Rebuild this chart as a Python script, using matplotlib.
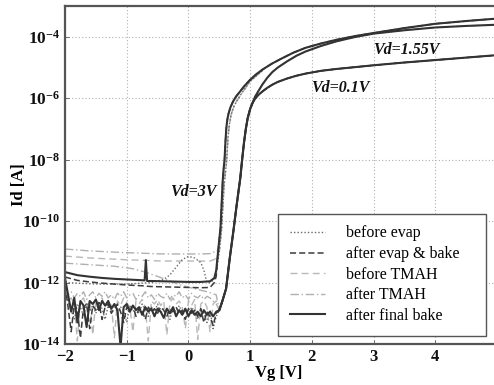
import numpy as np
import matplotlib
matplotlib.use("Agg")
import matplotlib.pyplot as plt
from matplotlib.lines import Line2D

plt.rcParams['font.family'] = ['Liberation Serif', 'DejaVu Serif']
plt.rcParams['mathtext.fontset'] = 'custom'
plt.rcParams['mathtext.rm'] = 'Liberation Serif'
plt.rcParams['mathtext.bf'] = 'Liberation Serif:bold'

# ---------------- data (log10 of Id) ----------------
# off-state grid for the noisy low-Vd curves
vg_off = [-2.0, -1.95, -1.9, -1.85, -1.8, -1.75, -1.7, -1.65, -1.6, -1.55,
          -1.5, -1.45, -1.4, -1.35, -1.3, -1.25, -1.2, -1.15, -1.1, -1.05,
          -1.0, -0.95, -0.9, -0.85, -0.8, -0.75, -0.7, -0.65, -0.6, -0.55,
          -0.5, -0.45, -0.4, -0.35, -0.3, -0.25, -0.2, -0.15, -0.1, -0.05,
          0.0, 0.05, 0.1, 0.15, 0.2, 0.25, 0.3, 0.35, 0.4, 0.45]

noise_final = [-11.85, -12.4, -12.95, -12.5, -13.3, -12.6, -12.75, -13.45, -12.6, -12.7,
               -12.55, -12.9, -12.6, -12.75, -12.6, -12.85, -12.7, -12.9, -14.1, -12.8,
               -12.7, -12.95, -12.75, -12.9, -12.8, -13.05, -12.8, -12.95, -12.85, -13.1,
               -12.85, -12.95, -13.15, -12.85, -13.0, -12.8, -13.1, -12.9, -13.05, -12.85,
               -13.1, -12.9, -13.05, -12.95, -13.1, -12.9, -13.05, -12.95, -13.1, -12.95]
noise_evap = [-12.1, -12.8, -13.6, -12.7, -12.9, -13.8, -12.8, -12.7, -13.5, -12.75,
              -12.9, -12.65, -13.2, -12.8, -12.7, -13.0, -12.85, -12.7, -12.95, -13.3,
              -12.8, -12.9, -12.75, -13.1, -12.85, -12.9, -13.2, -12.8, -12.95, -12.85,
              -13.0, -12.8, -12.9, -13.1, -12.85, -12.95, -12.8, -13.0, -12.9, -13.2,
              -12.85, -13.0, -12.9, -13.1, -12.85, -13.3, -12.95, -13.1, -13.4, -13.0]
noise_tmah_before = [-12.3, -12.6, -12.5, -12.7, -13.9, -12.6, -12.5, -12.8, -12.6, -13.7,
                     -12.55, -12.7, -12.5, -12.8, -12.6, -12.7, -13.8, -12.6, -12.75, -12.5,
                     -12.65, -12.8, -13.6, -12.6, -12.7, -12.55, -12.8, -13.9, -12.6, -12.7,
                     -12.55, -12.75, -12.6, -13.7, -12.65, -12.5, -12.7, -12.6, -12.8, -13.5,
                     -12.6, -12.75, -12.55, -13.85, -12.7, -12.6, -12.8, -13.6, -12.7, -12.6]
noise_tmah_after = [-12.2, -12.4, -12.3, -12.5, -12.35, -12.45, -12.3, -12.55, -12.4, -12.3,
                    -12.5, -12.35, -12.45, -12.3, -12.5, -12.4, -12.55, -12.35, -12.45, -12.3,
                    -12.5, -12.4, -12.35, -12.55, -12.4, -12.45, -12.3, -12.5, -12.4, -12.55,
                    -12.35, -12.45, -12.5, -12.35, -12.55, -12.4, -12.45, -12.3, -12.5, -12.4,
                    -12.55, -12.35, -12.45, -12.5, -12.4, -12.55, -12.45, -12.5, -12.6, -12.7]
noise_before_evap = [-12.0, -12.6, -12.9, -13.2, -12.7, -12.8, -13.1, -12.65, -12.9, -12.75,
                     -13.0, -12.7, -12.85, -13.2, -12.75, -12.9, -12.7, -13.0, -12.8, -12.9,
                     -13.3, -12.75, -12.95, -12.8, -13.0, -12.7, -12.9, -13.1, -12.8, -12.95,
                     -12.7, -13.0, -12.85, -12.9, -13.2, -12.8, -12.95, -12.75, -13.0, -12.85,
                     -13.1, -12.8, -12.95, -13.2, -12.85, -13.0, -13.3, -12.9, -13.5, -13.1]

# turn-on of the Vd=0.1V / 1.55V curves (they overlap up to ~1 V)
vg_rise_low = [0.5, 0.55, 0.61, 0.67, 0.73, 0.78, 0.84, 0.87, 0.9, 0.93, 0.96, 1.0, 1.04]
rise_low = [-12.9, -12.6, -12.2, -11.2, -10.3, -9.5, -8.6, -8.0, -7.45, -7.0, -6.65, -6.35, -6.15]

vg_hi = [1.08, 1.13, 1.2, 1.28, 1.36, 1.45, 1.6, 1.75, 1.9, 2.15, 2.4, 2.7, 3.0,
         3.5, 4.0, 4.5, 5.0]
hi_01 = [-6.02, -5.9, -5.78, -5.66, -5.56, -5.47, -5.36, -5.27, -5.2, -5.11, -5.05, -4.99,
         -4.93, -4.84, -4.76, -4.68, -4.6]
hi_155 = [-5.95, -5.78, -5.55, -5.33, -5.15, -5.0, -4.8, -4.62, -4.48, -4.3, -4.15, -4.01,
          -3.9, -3.79, -3.7, -3.65, -3.61]

# Vd=3V off-state
vg_3v_off = [-2.0, -1.8, -1.6, -1.4, -1.2, -1.0, -0.8, -0.71, -0.69, -0.67,
             -0.6, -0.4, -0.2, 0.0, 0.2, 0.35, 0.42, 0.45]
off_3v_final = [-11.66, -11.76, -11.81, -11.85, -11.88, -11.9, -11.92, -11.93, -11.27, -11.95,
                -11.95, -11.96, -11.97, -11.98, -11.98, -11.96, -11.85, -11.6]
off_3v_evap = [-11.82, -11.93, -11.98, -12.02, -12.05, -12.08, -12.1, -12.11, -12.11, -12.12,
               -12.13, -12.14, -12.15, -12.16, -12.17, -12.16, -12.0, -11.8]
off_3v_tmah_after = [-10.91, -10.94, -10.97, -10.99, -11.01, -11.03, -11.04, -11.05, -11.05, -11.05,
                     -11.06, -11.07, -11.07, -11.07, -11.07, -11.06, -11.0, -10.95]
off_3v_tmah_before = [-11.14, -11.17, -11.2, -11.22, -11.24, -11.26, -11.27, -11.28, -11.28, -11.28,
                      -11.29, -11.3, -11.3, -11.3, -11.3, -11.3, -11.25, -11.2]

vg_tmah_155 = [-2.0, -1.6, -1.2, -0.9, -0.7, -0.5, -0.3, -0.1, 0.1, 0.3, 0.45]
off_tmah_155 = [-11.37, -11.42, -11.47, -11.55, -11.66, -11.8, -11.95, -12.1, -12.2, -12.3, -12.4]

vg_bump = [-2.0, -1.5, -1.0, -0.6, -0.4, -0.3, -0.2, -0.1, 0.0, 0.1, 0.2, 0.25, 0.3, 0.35, 0.42, 0.45]
off_bump = [-12.0, -12.05, -12.05, -12.0, -11.9, -11.75, -11.5, -11.25, -11.15, -11.2, -11.35,
            -11.6, -12.0, -12.0, -11.9, -11.7]

# Vd=3V turn-on
vg_3v_rise = [0.48, 0.52, 0.555, 0.57, 0.585, 0.6, 0.615, 0.63, 0.65, 0.68, 0.72, 0.77,
              0.83, 0.9, 1.0, 1.1, 1.2, 1.35, 1.5, 1.7, 1.9, 2.15, 2.4, 2.7, 3.0,
              3.5, 4.0, 4.5, 5.0]
rise_3v = [-11.0, -10.2, -8.7, -8.3, -8.0, -7.4, -6.95, -6.7, -6.5, -6.3, -6.12, -5.95,
           -5.8, -5.62, -5.4, -5.22, -5.07, -4.88, -4.72, -4.52, -4.36, -4.22, -4.1, -3.98,
           -3.88, -3.72, -3.58, -3.49, -3.41]
vg_3v_rise_b = [0.5, 0.54, 0.575, 0.6, 0.62, 0.64, 0.66, 0.69, 0.73, 0.78, 0.85, 0.92, 1.0, 1.2]
rise_3v_b = [-11.0, -10.2, -8.9, -8.4, -8.0, -7.3, -6.9, -6.55, -6.3, -6.1, -5.88, -5.68,
             -5.45, -5.1]

labels = ['before evap', 'after evap & bake', 'before TMAH', 'after TMAH', 'after final bake']
styles = {
    'before evap': dict(color='#6a6a6a', ls=(0, (1, 1.5)), lw=1.0),
    'after evap & bake': dict(color='#3c3c3c', ls=(0, (4, 2)), lw=1.1),
    'before TMAH': dict(color='#b8b8b8', ls=(0, (5, 3)), lw=1.0),
    'after TMAH': dict(color='#b0b0b0', ls=(0, (6, 2, 1, 2)), lw=1.0),
    'after final bake': dict(color='#333333', ls='-', lw=1.5),
}


def line(ax, xs, ys, key):
    st = styles[key]
    ax.plot(xs, 10.0 ** np.array(ys), color=st['color'], linestyle=st['ls'], linewidth=st['lw'])


fig = plt.figure(figsize=(4.94, 3.85), dpi=100)
ax = fig.add_axes([0.1316, 0.1065, 0.8745, 0.878])

# light curves first
line(ax, vg_off + vg_rise_low + vg_hi, noise_tmah_after + rise_low + hi_01, 'after TMAH')
line(ax, vg_off + vg_rise_low + vg_hi, noise_tmah_before + rise_low + hi_01, 'before TMAH')
line(ax, vg_tmah_155 + vg_rise_low + vg_hi, off_tmah_155 + rise_low + hi_155, 'after TMAH')
line(ax, vg_3v_off + vg_3v_rise_b, off_3v_tmah_after + rise_3v_b, 'after TMAH')
line(ax, vg_3v_off + vg_3v_rise_b, off_3v_tmah_before + rise_3v_b, 'before TMAH')

# dotted
line(ax, vg_off + vg_rise_low + vg_hi, noise_before_evap + rise_low + hi_01, 'before evap')
line(ax, vg_bump + vg_3v_rise_b, off_bump + rise_3v_b, 'before evap')

# dark dashed
line(ax, vg_off + vg_rise_low + vg_hi, noise_evap + rise_low + hi_01, 'after evap & bake')
line(ax, vg_3v_off + vg_3v_rise, off_3v_evap + rise_3v, 'after evap & bake')

# solid
line(ax, vg_off + vg_rise_low + vg_hi, noise_final + rise_low + hi_01, 'after final bake')
line(ax, vg_rise_low + vg_hi, rise_low + hi_155, 'after final bake')
line(ax, vg_3v_off + vg_3v_rise, off_3v_final + rise_3v, 'after final bake')

ax.set_yscale('log')
ax.set_xlim(-2, 5)
ax.set_ylim(1e-14, 1e-3)
ax.set_xticks([-2, -1, 0, 1, 2, 3, 4, 5])
ax.set_xticklabels(['\u22122', '\u22121', '0', '1', '2', '3', '4', '5'])
yt = [1e-14, 1e-12, 1e-10, 1e-8, 1e-6, 1e-4]
ax.set_yticks(yt)
ax.set_yticklabels([r'$\mathbf{10^{%d}}$' % e for e in [-14, -12, -10, -8, -6, -4]])
ax.yaxis.set_minor_locator(matplotlib.ticker.NullLocator())
ax.tick_params(direction='in', length=3, width=0.6, colors='#555555', labelcolor='#111111')
for lab in ax.get_xticklabels():
    lab.set_fontweight('bold')
    lab.set_fontsize(12)
for lab in ax.get_yticklabels():
    lab.set_fontsize(12.5)
ax.grid(True, color='#b0b0b0', linestyle=(0, (1, 2)), linewidth=0.8)
for sp in ax.spines.values():
    sp.set_color('#555555')
    sp.set_linewidth(1.6)

ax.set_xlabel('Vg [V]', fontsize=12, fontweight='bold')
ax.set_ylabel('Id [A]', fontsize=12, fontweight='bold')
ax.xaxis.set_label_coords(0.495, -0.062)
ax.yaxis.set_label_coords(-0.088, 0.47)

txt = dict(fontsize=11.5, fontweight='bold', style='italic', color='#111111', ha='center', va='center')
ax.text(0.07, 10 ** -9.06, 'Vd=3V', **txt)
ax.text(3.53, 10 ** -4.44, 'Vd=1.55V', **txt)
ax.text(2.46, 10 ** -5.67, 'Vd=0.1V', **txt)

handles = [Line2D([], [], color=styles[k]['color'], linestyle=styles[k]['ls'],
                  linewidth=styles[k]['lw']) for k in labels]
leg = ax.legend(handles, labels, loc='lower left', mode='expand',
                bbox_to_anchor=(278 / 494, 1 - 336 / 385, 208 / 494, 122 / 385),
                bbox_transform=fig.transFigure, borderaxespad=0, fontsize=11.5,
                fancybox=False, framealpha=1, edgecolor='#555555', handlelength=2.2,
                handletextpad=1.3, labelspacing=0.29, borderpad=0.75)
leg.get_frame().set_linewidth(1.0)

fig.savefig('out.png', dpi=100)
